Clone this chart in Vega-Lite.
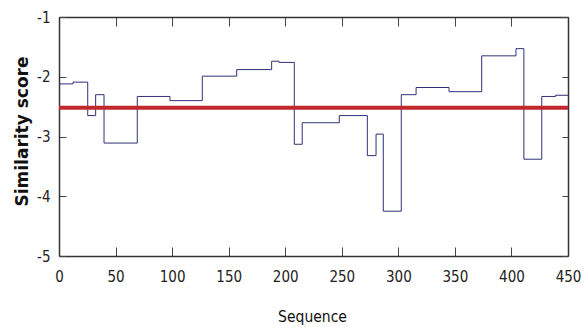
{
  "$schema": "https://vega.github.io/schema/vega-lite/v6.json",
  "width": 509,
  "height": 239,
  "autosize": {"type": "none"},
  "padding": {"left": 59, "top": 17, "right": 17, "bottom": 71},
  "background": "white",
  "config": {
    "view": {"stroke": null},
    "axis": {
      "grid": false,
      "domainColor": "#333333",
      "domainWidth": 1.5,
      "tickColor": "#444444",
      "tickWidth": 1,
      "labelFont": "DejaVu Sans Condensed, Roboto, sans-serif",
      "labelFontSize": 15,
      "labelColor": "#222222",
      "titleColor": "#111111"
    }
  },
  "resolve": {"axis": {"x": "independent", "y": "independent"}},
  "layer": [
    {
      "data": {"values": [
        {"seq": 0, "score": -2.12},
        {"seq": 12.4, "score": -2.09},
        {"seq": 25.4, "score": -2.65},
        {"seq": 32.4, "score": -2.30},
        {"seq": 39.8, "score": -3.11},
        {"seq": 69.2, "score": -2.33},
        {"seq": 98.1, "score": -2.40},
        {"seq": 126.7, "score": -1.99},
        {"seq": 157.1, "score": -1.88},
        {"seq": 188, "score": -1.74},
        {"seq": 194.5, "score": -1.76},
        {"seq": 208, "score": -3.13},
        {"seq": 215, "score": -2.77},
        {"seq": 247.8, "score": -2.65},
        {"seq": 272.6, "score": -3.32},
        {"seq": 280.3, "score": -2.96},
        {"seq": 286.7, "score": -4.25},
        {"seq": 302.6, "score": -2.30},
        {"seq": 315.7, "score": -2.18},
        {"seq": 344.8, "score": -2.25},
        {"seq": 373.7, "score": -1.65},
        {"seq": 404, "score": -1.53},
        {"seq": 411, "score": -3.38},
        {"seq": 426.8, "score": -2.33},
        {"seq": 439, "score": -2.31},
        {"seq": 450, "score": -2.31}
      ]},
      "mark": {"type": "line", "interpolate": "step-after", "color": "#2e3179", "strokeWidth": 1},
      "encoding": {
        "x": {
          "field": "seq", "type": "quantitative",
          "scale": {"domain": [0, 450], "nice": false, "zero": false},
          "axis": {
            "orient": "bottom",
            "values": [0, 50, 100, 150, 200, 250, 300, 350, 400, 450],
            "tickSize": -9,
            "labelPadding": 22,
            "labelFlush": false,
            "title": "Sequence",
            "titleFont": "DejaVu Sans Condensed, Roboto, sans-serif",
            "titleFontSize": 15.5,
            "titleFontWeight": "normal",
            "titleBaseline": "middle",
            "titleX": 253,
            "titleY": 60
          }
        },
        "y": {
          "field": "score", "type": "quantitative",
          "scale": {"domain": [-5, -1], "nice": false, "zero": false},
          "axis": {
            "orient": "left",
            "values": [-5, -4, -3, -2, -1],
            "labelExpr": "toString(datum.value)",
            "tickSize": -7,
            "labelPadding": 16,
            "labelFlush": false,
            "title": "Similarity score",
            "titleFont": "DejaVu Sans",
            "titleFontSize": 17,
            "titleFontWeight": "bold",
            "titleAngle": -90,
            "titleAlign": "center",
            "titleBaseline": "middle",
            "titleX": -37,
            "titleY": 114
          }
        }
      }
    },
    {
      "data": {"values": [{"start": 0, "end": 450, "threshold": -2.52}]},
      "mark": {"type": "rule", "color": "#c0282e", "strokeWidth": 4},
      "encoding": {
        "x": {
          "field": "start", "type": "quantitative",
          "axis": {"orient": "top", "values": [0, 50, 100, 150, 200, 250, 300, 350, 400, 450], "labels": false, "tickSize": -9, "title": null}
        },
        "x2": {"field": "end"},
        "y": {
          "field": "threshold", "type": "quantitative",
          "axis": {"orient": "right", "values": [-5, -4, -3, -2, -1], "labels": false, "tickSize": -6, "title": null}
        }
      }
    }
  ]
}
